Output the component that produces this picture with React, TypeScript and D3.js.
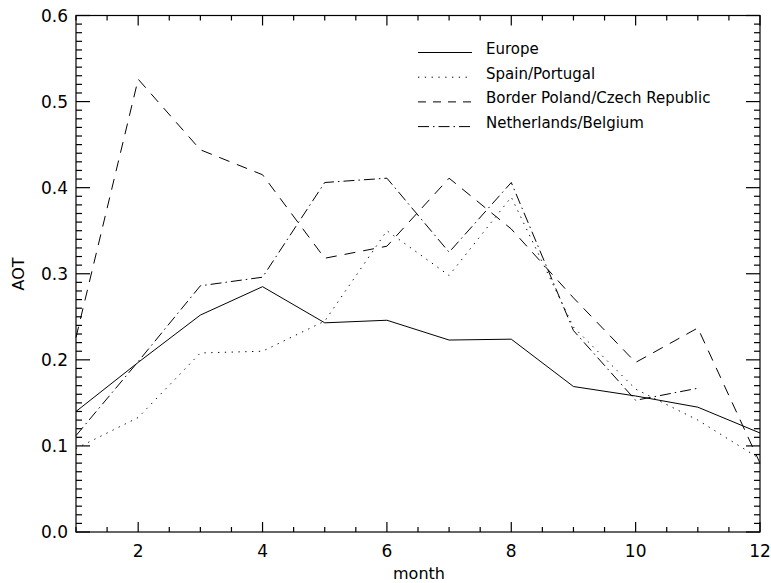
import React from 'react';
import * as d3 from 'd3';

// monthly mean AOT per region
const months = [1, 2, 3, 4, 5, 6, 7, 8, 9, 10, 11, 12];
const europe = [0.14, 0.197, 0.252, 0.285, 0.243, 0.246, 0.223, 0.224, 0.169, 0.158, 0.145, 0.115];
const spainPortugal = [0.097, 0.133, 0.208, 0.21, 0.245, 0.35, 0.298, 0.389, 0.238, 0.166, 0.13, 0.085];
const polandCzech = [0.226, 0.526, 0.444, 0.415, 0.318, 0.332, 0.411, 0.352, 0.272, 0.197, 0.237, 0.08];
const netherlandsBelgium = [0.112, 0.198, 0.286, 0.296, 0.406, 0.411, 0.325, 0.406, 0.234, 0.153, 0.167];

const yTicks = [0, 0.1, 0.2, 0.3, 0.4, 0.5, 0.6];
const xTicks = [2, 4, 6, 8, 10, 12];

const series = [
  { name: 'Europe', values: europe, dash: 'none', legendDash: 'none' },
  { name: 'Spain/Portugal', values: spainPortugal, dash: '1.3,5.5', legendDash: '1.3,5.5' },
  { name: 'Border Poland/Czech Republic', values: polandCzech, dash: '11,8', legendDash: '8,7' },
  { name: 'Netherlands/Belgium', values: netherlandsBelgium, dash: '11,4,1.5,4', legendDash: '11,4,1.5,4' },
];

const W = 771;
const H = 583;
const left = 76, right = 760, top = 15.5, bottom = 532;
const font = '"DejaVu Sans", Verdana, sans-serif';

export default function App() {
  const x = d3.scaleLinear().domain([1, 12]).range([left, right]);
  const y = d3.scaleLinear().domain([0, 0.6]).range([bottom, top]);

  const line = d3.line<[number, number]>().x(d => x(d[0])).y(d => y(d[1]));

  const yMinor = d3.range(0, 0.6001, 0.01);
  const xMinor = d3.range(1, 12.001, 0.5);

  return (
    <svg width={W} height={H} style={{ position: 'absolute', left: 0, top: 0, background: '#fff' }}>
      <rect x={0} y={0} width={W} height={H} fill="#fff" />
      {/* frame */}
      <rect x={left} y={top} width={right - left} height={bottom - top} fill="none" stroke="#000" strokeWidth={1.2} />

      {/* y ticks, both sides */}
      {yMinor.map((v, i) => {
        const major = i % 10 === 0;
        const len = major ? 14 : 6;
        return (
          <g key={'y' + i}>
            <line x1={left} x2={left + len} y1={y(v)} y2={y(v)} stroke="#000" strokeWidth={1.2} />
            <line x1={right} x2={right - len} y1={y(v)} y2={y(v)} stroke="#000" strokeWidth={1.2} />
          </g>
        );
      })}
      {yTicks.map(v => (
        <text key={'yl' + v} x={68} y={y(v)} dy="0.38em" textAnchor="end" fontFamily={font} fontSize={17} fill="#000">
          {d3.format('.1f')(v)}
        </text>
      ))}

      {/* x ticks, top and bottom */}
      {xMinor.map((v, i) => {
        const major = xTicks.includes(v);
        const len = major ? 10 : 5;
        return (
          <g key={'x' + i}>
            <line x1={x(v)} x2={x(v)} y1={bottom} y2={bottom - len} stroke="#000" strokeWidth={1.2} />
            <line x1={x(v)} x2={x(v)} y1={top} y2={top + len} stroke="#000" strokeWidth={1.2} />
          </g>
        );
      })}
      {xTicks.map(v => (
        <text key={'xl' + v} x={x(v)} y={557} textAnchor="middle" fontFamily={font} fontSize={17} fill="#000">
          {v}
        </text>
      ))}

      <text x={(left + right) / 2 + 1} y={578.5} textAnchor="middle" fontFamily={font} fontSize={16} fill="#000">month</text>
      <text transform={`translate(23.5,274) rotate(-90)`} textAnchor="middle" fontFamily={font} fontSize={16} fill="#000">AOT</text>

      {/* data */}
      {series.map(s => (
        <path
          key={s.name}
          d={line(s.values.map((v, i) => [months[i], v] as [number, number])) || ''}
          fill="none"
          stroke="#000"
          strokeWidth={1}
          strokeDasharray={s.dash}
        />
      ))}

      {/* legend */}
      {series.map((s, i) => {
        const ly = 52.5 + i * 24.7;
        return (
          <g key={'lg' + i}>
            <line x1={418} x2={472} y1={ly} y2={ly} stroke="#000" strokeWidth={1} strokeDasharray={s.legendDash} />
            <text x={486} y={ly + 1.5} fontFamily={font} fontSize={15} fill="#000">{s.name}</text>
          </g>
        );
      })}
    </svg>
  );
}
